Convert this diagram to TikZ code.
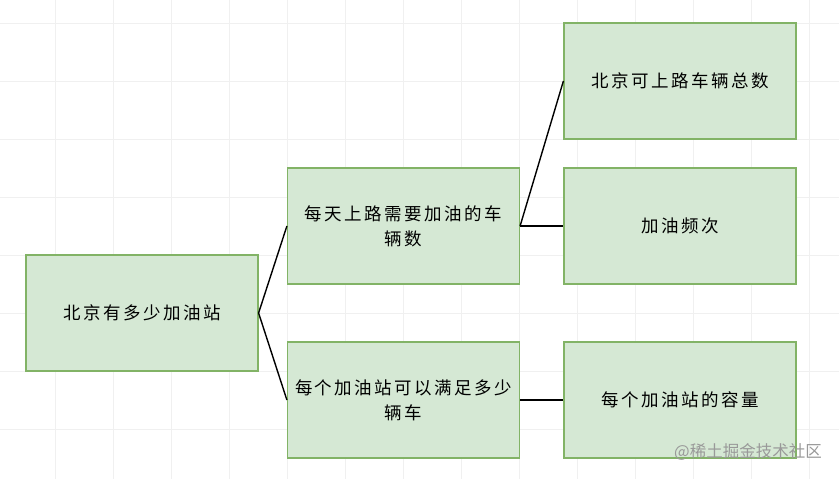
\documentclass[tikz,border=0pt]{standalone}
\usepackage{fontspec}
\newfontfamily\cjk[LetterSpace=14]{Noto Sans CJK SC}
\newfontfamily\markfont{Noto Sans CJK SC}

\begin{document}
\begin{tikzpicture}[x=1pt,y=-1pt,
  box/.style={draw=boxline, fill=boxfill, line width=1.2pt, minimum width=232pt,
    minimum height=116pt, inner sep=0pt, align=center,
    font=\cjk\fontsize{17.5}{25}\selectfont},
  link/.style={black, line width=1.4pt}]
  % Couleurs
  \definecolor{boxfill}{HTML}{D5E8D4}
  \definecolor{boxline}{HTML}{82B366}
  \definecolor{gridline}{HTML}{F0F0F0}

  % Cadre et grille
  \useasboundingbox (0,0) rectangle (839,479);
  \fill[white] (0,0) rectangle (839,479);
  \foreach \x in {55,113,...,839} \draw[gridline, line width=0.8pt] (\x,0) -- (\x,479);
  \foreach \y in {23,81,...,479} \draw[gridline, line width=0.8pt] (0,\y) -- (839,\y);

  % Boites
  \node[box] (root) at (142,313) {北京有多少加油站};
  \node[box] (cars) at (403.5,226) {每天上路需要加油的车\\辆数};
  \node[box] (cap) at (403.5,400) {每个加油站可以满足多少\\辆车};
  \node[box] (total) at (680,81) {北京可上路车辆总数};
  \node[box] (freq) at (680,226) {加油频次};
  \node[box] (each) at (680,400) {每个加油站的容量};

  % Liens
  \draw[link] (root.east) -- (cars.west);
  \draw[link] (root.east) -- (cap.west);
  \draw[link] (cars.east) -- (total.west);
  \draw[link] (cars.east) -- (freq.west);
  \draw[link] (cap.east) -- (each.west);

  % Filigrane
  \node[text=black!40, font=\markfont\fontsize{16.5}{18}\selectfont, anchor=east, inner sep=0pt] (mark) at (822,452) {@稀土掘金技术社区};
\end{tikzpicture}
\end{document}
